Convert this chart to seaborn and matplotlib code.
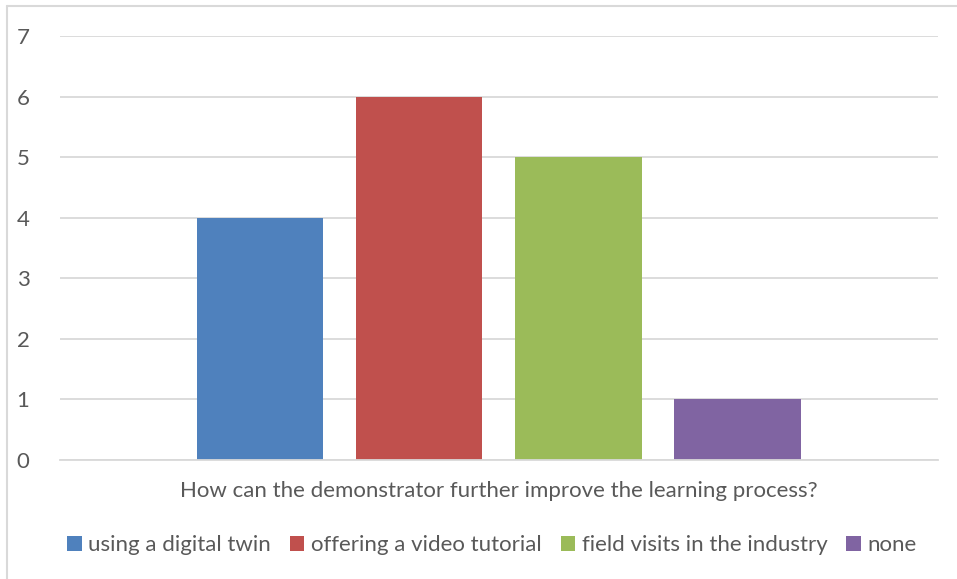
#!/usr/bin/env python3

from matplotlib import pyplot as plt
from matplotlib.lines import Line2D
import pandas as pd
import seaborn as sns

question = "How can the demonstrator further improve the learning process?"
answers = [
        "using a digital twin", "offering a video tutorial",
        "field visits in the industry", "none",
        ]
counts = [4, 6, 5, 1]
colors = ["#4F81BD", "#C0504D", "#9BBB59", "#8064A2"]


def main():
    df = pd.DataFrame({"question": question, "answer": answers, "count": counts})

    sns.set_theme(style="white")
    plt.rcParams["font.family"] = ["Lato", "DejaVu Sans"]
    text_col = "#595959"
    grid_col = "#D9D9D9"

    fig = plt.figure(figsize=(9.57, 5.79), dpi=100)
    ax = fig.add_axes([0.0627, 0.2055, 0.9173, 0.7323])

    sns.barplot(
            data=df, x="question", y="count", hue="answer",
            palette=colors, width=0.8, gap=0.207, saturation=1,
            linewidth=0, ax=ax, legend=True,
            )

    ax.set_xlim(-0.552, 0.552)
    ax.set_ylim(0, 7)
    ax.set_yticks(range(8))
    ax.yaxis.grid(True, color=grid_col, linewidth=1.3)
    ax.set_axisbelow(True)
    for side in ("top", "right", "left"):
        ax.spines[side].set_visible(False)
    ax.spines["bottom"].set_color(grid_col)
    ax.spines["bottom"].set_linewidth(1.3)
    ax.tick_params(axis="y", length=0, pad=22, labelsize=16, labelcolor=text_col)
    ax.set_xticks([])
    ax.set_ylabel("")
    ax.set_xlabel(question, fontsize=16, color=text_col, labelpad=15)

    ax.legend(
            loc="center", bbox_to_anchor=(0.492, -0.2005), ncol=4,
            frameon=False, fontsize=16, labelcolor=text_col,
            handlelength=0.65, handleheight=0.65, handletextpad=0.3,
            columnspacing=0.85, borderaxespad=0,
            )

    # chart frame from the original export (only top and left edges visible)
    fig.add_artist(Line2D([0.007, 1.0], [0.990, 0.990], color=grid_col, lw=1.5))
    fig.add_artist(Line2D([0.007, 0.007], [0.0, 0.990], color=grid_col, lw=1.5))

    fig.savefig("out.png", dpi=100)


if __name__ == "__main__":
    main()
